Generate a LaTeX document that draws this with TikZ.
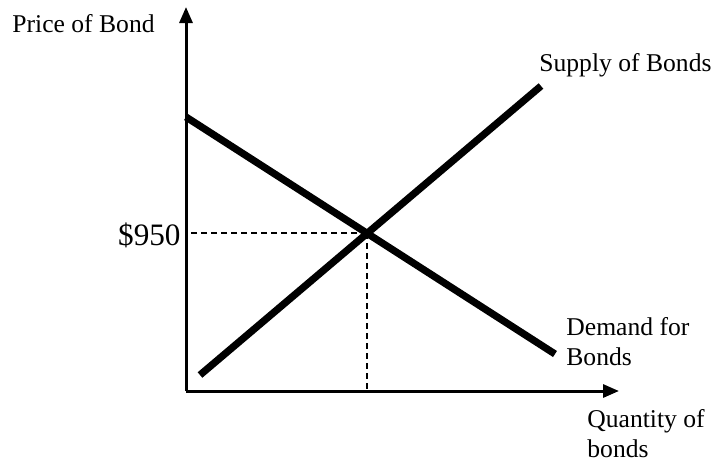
\documentclass[tikz,border=0pt]{standalone}
\usepackage{fontspec}
\setmainfont{Liberation Serif}
\usetikzlibrary{positioning, arrows.meta, calc}
\tikzset{
  % Axes
  axis/.style={
    -{Triangle[length=8pt, width=6.5pt]}, line width=1.5pt
  },
  % Supply / demand curves
  curve/.style={
    -, line width=3.6pt, line cap=butt
  },
  % Dashed guide lines
  guide/.style={
    -, line width=1pt, dash pattern=on 3pt off 2pt
  },
  % Labels
  lbl/.style={
    inner sep=0pt, align=left, font=\fontsize{12.8}{14.8}\selectfont
  },
  pricelbl/.style={
    inner sep=0pt, font=\fontsize{15.6}{18}\selectfont
  },
}

\begin{document}
\begin{tikzpicture}[x=0.5pt, y=-0.5pt]

  \useasboundingbox (0,0) rectangle (714,463);

  %% -- Points --
  \coordinate (origin) at (186,391);
  \coordinate (ytop)   at (186,7);
  \coordinate (xend)   at (619,391);
  \coordinate (sLow)   at (200,375);
  \coordinate (sHigh)  at (541,86);
  \coordinate (dHigh)  at (186,117);
  \coordinate (dLow)   at (555,354);
  \coordinate (eq) at (intersection of sLow--sHigh and dHigh--dLow);

  %% -- Axes --
  \draw[axis] (origin) -- (ytop);
  \draw[axis] (origin) -- (xend);

  %% -- Curves --
  \draw[curve] (sLow) -- (sHigh);
  \draw[curve] (dHigh) -- (dLow);

  %% -- Guides --
  \draw[guide] (eq) -- (eq -| origin);
  \draw[guide] (eq) -- (eq |- origin);

  %% -- Labels --
  \node[lbl, anchor=base west] (priceAxis) at (12,32) {Price of Bond};
  \node[lbl, anchor=base west] (supplyLbl) at (539,71) {Supply of Bonds};
  \node[lbl, anchor=base west] (demandLbl) at (566,365) {Demand for\\Bonds};
  \node[lbl, anchor=base west] (qtyAxis)   at (587,457) {Quantity of\\bonds};
  \node[pricelbl, anchor=base east] (price) at (181,245) {\$950};

\end{tikzpicture}
\end{document}
